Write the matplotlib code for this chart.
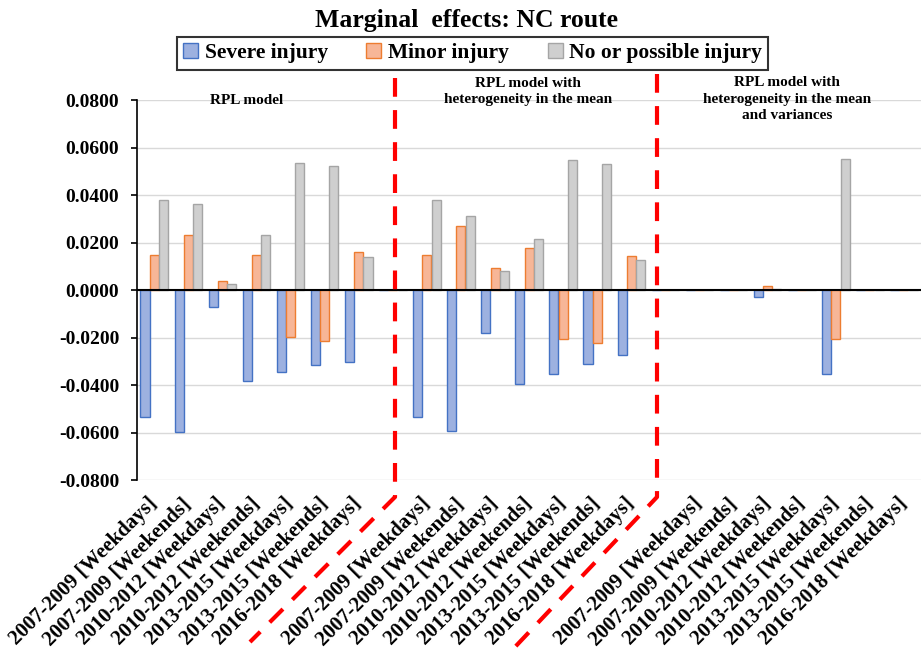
import numpy as np
import matplotlib
matplotlib.use("Agg")
import matplotlib.pyplot as plt
from matplotlib.lines import Line2D
from matplotlib.patches import Patch

plt.rcParams["font.family"] = ["Liberation Serif", "DejaVu Serif"]
plt.rcParams["font.weight"] = "bold"
plt.rcParams["axes.unicode_minus"] = False

# categories: three model blocks of seven periods, one blank slot between blocks
periods = ["2007-2009 [Weekdays]", "2007-2009 [Weekends]", "2010-2012 [Weekdays]",
           "2010-2012 [Weekends]", "2013-2015 [Weekdays]", "2013-2015 [Weekends]",
           "2016-2018 [Weekdays]"]
models = ["RPL model",
          "RPL model with\nheterogeneity in the mean",
          "RPL model with\nheterogeneity in the mean\nand variances"]
series = ["Severe injury", "Minor injury", "No or possible injury"]

# RPL model
severe_rpl = [-0.0533, -0.0598, -0.0073, -0.0383, -0.0345, -0.0316, -0.0301]
minor_rpl = [0.0150, 0.0232, 0.0038, 0.0150, -0.0196, -0.0212, 0.0160]
none_rpl = [0.0380, 0.0364, 0.0026, 0.0232, 0.0534, 0.0524, 0.0138]
# heterogeneity in the mean
severe_hm = [-0.0534, -0.0594, -0.0180, -0.0396, -0.0351, -0.0311, -0.0273]
minor_hm = [0.0150, 0.0270, 0.0095, 0.0177, -0.0207, -0.0224, 0.0144]
none_hm = [0.0380, 0.0314, 0.0082, 0.0216, 0.0549, 0.0532, 0.0128]
# heterogeneity in the mean and variances
severe_hmv = [0, 0, -0.0028, 0, -0.0351, 0, 0]
minor_hmv = [0, 0, 0.0017, 0, -0.0207, 0, 0]
none_hmv = [0, 0, 0.0003, 0, 0.0554, 0, 0]

FILLS = ["#9DB1E0", "#F7B697", "#CFCFCF"]
EDGES = ["#4472C4", "#ED7D31", "#A5A5A5"]
RED = "#FF0000"


def block(a, b, c):
    # join three blocks with a blank (NaN) slot between them
    return np.array(a + [np.nan] + b + [np.nan] + c, dtype=float)


vals = [block(severe_rpl, severe_hm, severe_hmv),
        block(minor_rpl, minor_hm, minor_hmv),
        block(none_rpl, none_hm, none_hmv)]
labels = periods + [""] + periods + [""] + periods
x = np.arange(len(labels))

fig = plt.figure(figsize=(9.21, 6.55), dpi=100)
ax = fig.add_axes([0.149, 0.267, 0.851, 0.580])

w = 0.265
for i, (v, fc, ec) in enumerate(zip(vals, FILLS, EDGES)):
    ax.bar(x + (i - 1) * 0.272, np.nan_to_num(v), w, color=fc, edgecolor=ec,
           linewidth=1.0, zorder=3)

ax.set_xlim(-0.5, len(labels) - 0.5)
ax.set_ylim(-0.08, 0.08)
ax.set_yticks(np.arange(-0.08, 0.0801, 0.02))
ax.set_yticklabels([f"{t:.4f}" for t in np.arange(-0.08, 0.0801, 0.02)], fontsize=14)
ax.grid(axis="y", color="#D9D9D9", lw=1.0, zorder=0)
ax.axhline(0, color="black", lw=1.5, zorder=4)
for s in ("top", "right", "bottom"):
    ax.spines[s].set_visible(False)
ax.spines["left"].set_linewidth(1.2)
ax.tick_params(axis="y", length=4, width=1.2, pad=9)

ax.set_xticks(x)
ax.set_xticklabels(labels, rotation=45, ha="right", va="center",
                   rotation_mode="anchor", fontsize=15)
ax.tick_params(axis="x", length=0, pad=15)

# model block captions
for xc, yc, txt in ((2.7, 0.0800, models[0]), (10.97, 0.0836, models[1]),
                    (18.56, 0.0804, models[2])):
    ax.text(xc, yc, txt, ha="center", va="center", fontsize=11,
            linespacing=1.35, clip_on=False, zorder=5)

# red dashed separators, running down into the label area
tr = fig.transFigure
for pts in (((395, 78), (395, 497), (250, 642)),
            ((657, 74), (657, 497), (515, 647))):
    xs = [p[0] / 921 for p in pts]
    ys = [1 - p[1] / 655 for p in pts]
    fig.add_artist(Line2D(xs, ys, transform=tr, color=RED, lw=3,
                          dashes=(4.5, 3.2), solid_capstyle="butt",
                          dash_capstyle="butt"))

handles = [Patch(facecolor=fc, edgecolor=ec, lw=1.0) for fc, ec in zip(FILLS, EDGES)]
leg = fig.legend(handles, series, loc="center", bbox_to_anchor=(0.513, 0.919),
                 ncol=3, fontsize=15.5, frameon=True, fancybox=False,
                 edgecolor="black", handlelength=0.7, handleheight=0.7,
                 handletextpad=0.3, columnspacing=1.8, borderpad=0.3)
leg.get_frame().set_linewidth(1.5)

fig.suptitle("Marginal  effects: NC route", fontsize=18.5, fontweight="bold",
             x=0.506, y=0.968, va="center")

fig.savefig("out.png", dpi=100, facecolor="white")
